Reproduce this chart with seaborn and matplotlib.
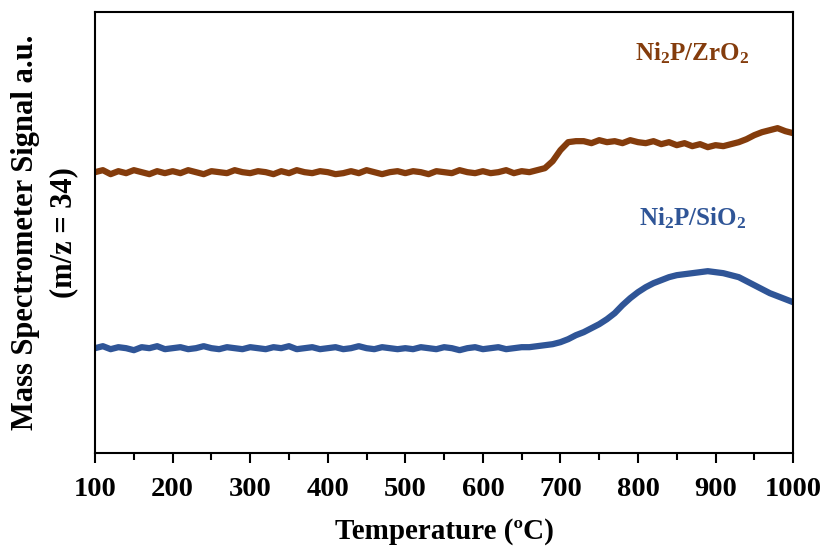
import numpy as np
import pandas as pd
import matplotlib
matplotlib.use("Agg")
import matplotlib.pyplot as plt
import seaborn as sns

# temperature grid (every 10 C)
temperature = list(range(100, 1001, 10))

# signal, arbitrary units
ni2p_zro2 = [
    281, 283, 279, 282, 280, 283, 281, 279, 282, 280,
    282, 280, 283, 281, 279, 282, 281, 280, 283, 281,
    280, 282, 281, 279, 282, 280, 283, 281, 280, 282,
    281, 279, 280, 282, 280, 283, 281, 279, 281, 282,
    280, 282, 281, 279, 282, 281, 280, 283, 281, 280,
    282, 280, 281, 283, 280, 282, 281, 283, 285, 292,
    303, 311, 312, 312, 310, 313, 311, 312, 310, 313,
    311, 310, 312, 309, 311, 308, 310, 307, 309, 306,
    308, 307, 309, 311, 314, 318, 321, 323, 325, 322,
    320,
]
ni2p_sio2 = [
    105, 107, 104, 106, 105, 103, 106, 105, 107, 104,
    105, 106, 104, 105, 107, 105, 104, 106, 105, 104,
    106, 105, 104, 106, 105, 107, 104, 105, 106, 104,
    105, 106, 104, 105, 107, 105, 104, 106, 105, 104,
    105, 104, 106, 105, 104, 106, 105, 103, 105, 106,
    104, 105, 106, 104, 105, 106, 106, 107, 108, 109,
    111, 114, 118, 121, 125, 129, 134, 140, 148, 155,
    161, 166, 170, 173, 176, 178, 179, 180, 181, 182,
    181, 180, 178, 176, 172, 168, 164, 160, 157, 154,
    151,
]

samples = ["Ni2P/ZrO2", "Ni2P/SiO2"]
colors = {"Ni2P/ZrO2": "#843C0C", "Ni2P/SiO2": "#2F5597"}

df = pd.DataFrame({
    "T": temperature * 2,
    "signal": ni2p_zro2 + ni2p_sio2,
    "sample": [samples[0]] * len(temperature) + [samples[1]] * len(temperature),
})

sns.set_style("ticks")
plt.rcParams["font.family"] = ["Liberation Serif"]
plt.rcParams["font.weight"] = "bold"
plt.rcParams["text.color"] = "black"
plt.rcParams["axes.labelcolor"] = "black"
plt.rcParams["xtick.color"] = "black"
plt.rcParams["mathtext.fontset"] = "custom"
plt.rcParams["mathtext.rm"] = "Liberation Serif:bold"
plt.rcParams["mathtext.bf"] = "Liberation Serif:bold"
plt.rcParams["mathtext.it"] = "Liberation Serif:bold"

fig = plt.figure(figsize=(8.27, 5.52), dpi=100)
ax = fig.add_axes([0.115, 0.179, 0.844, 0.799])

sns.lineplot(data=df, x="T", y="signal", hue="sample", palette=colors,
             linewidth=4.5, legend=False, ax=ax)

ax.set_xlim(100, 1000)
ax.set_ylim(0, 441)
ax.set_xticks(range(100, 1001, 100))
ax.set_xticks(range(150, 1000, 100), minor=True)
ax.set_yticks([])
ax.tick_params(axis="x", which="major", direction="out", length=7, width=1.5,
               labelsize=20.5, pad=10, colors="black")
ax.tick_params(axis="x", which="minor", direction="out", length=5, width=1.5,
               colors="black")
for lab in ax.get_xticklabels():
    lab.set_fontweight("bold")
for s in ax.spines.values():
    s.set_linewidth(1.5)
    s.set_color("black")

ax.set_xlabel("Temperature (ºC)", fontsize=21, fontweight="bold", labelpad=12,
              color="black")
ax.set_ylabel("Mass Spectrometer Signal a.u.\n(m/z = 34)", fontsize=22,
              fontweight="bold", linespacing=1.45, labelpad=12, color="black")

ax.text(870, 400, r"Ni$_2$P/ZrO$_2$", color=colors["Ni2P/ZrO2"], fontsize=18,
        fontweight="bold", ha="center", va="center")
ax.text(870, 235, r"Ni$_2$P/SiO$_2$", color=colors["Ni2P/SiO2"], fontsize=18,
        fontweight="bold", ha="center", va="center")

fig.savefig("out.png", dpi=100)
